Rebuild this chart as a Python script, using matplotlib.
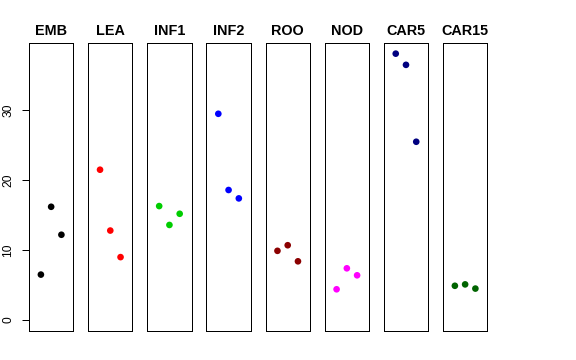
import matplotlib
matplotlib.use("Agg")
import matplotlib.pyplot as plt

categories = ["EMB", "LEA", "INF1", "INF2", "ROO", "NOD", "CAR5", "CAR15"]
EMB = [6.5, 16.2, 12.2]
LEA = [21.5, 12.8, 9.0]
INF1 = [16.3, 13.6, 15.2]
INF2 = [29.5, 18.6, 17.4]
ROO = [9.9, 10.7, 8.4]
NOD = [4.4, 7.4, 6.4]
CAR5 = [38.1, 36.5, 25.5]
CAR15 = [4.9, 5.1, 4.5]
series = [EMB, LEA, INF1, INF2, ROO, NOD, CAR5, CAR15]
colors = ["#000000", "#FF0000", "#00CD00", "#0000FF", "#8B0000", "#FF00FF", "#000080", "#006400"]
yticks = [0, 10, 20, 30]

plt.rcParams['font.family'] = ['Liberation Sans', 'DejaVu Sans']

W, H = 576, 360
fig = plt.figure(figsize=(W / 72, H / 72), dpi=72)

ymin, ymax = 0, 38.1
ypad = (ymax - ymin) * 0.04
xmin, xmax = 0, 4
xpad = (xmax - xmin) * 0.04

left0 = 29.0
step = 59.14
pw = 44.3
top = 43.0
bottom = 330.7

for i, (cat, vals, col) in enumerate(zip(categories, series, colors)):
    l = left0 + step * i
    ax = fig.add_axes([l / W, (H - bottom) / H, pw / W, (bottom - top) / H])
    xs = list(range(1, len(vals) + 1))
    ax.scatter(xs, vals, s=44, color=col, edgecolors='none', zorder=3)
    ax.set_xlim(xmin - xpad, xmax + xpad)
    ax.set_ylim(ymin - ypad, ymax + ypad)
    ax.set_xticks([])
    for sp in ax.spines.values():
        sp.set_linewidth(1.0)
        sp.set_color('black')
    ax.set_title(cat, fontsize=14.4, fontweight='bold', pad=8)
    if i == 0:
        ax.set_yticks(yticks)
        ax.set_yticklabels([str(t) for t in yticks], rotation=90, va='center', fontsize=12)
        ax.tick_params(axis='y', direction='out', length=7.5, width=1.0, pad=7)
    else:
        ax.set_yticks([])

fig.savefig("out.png", dpi=72)
